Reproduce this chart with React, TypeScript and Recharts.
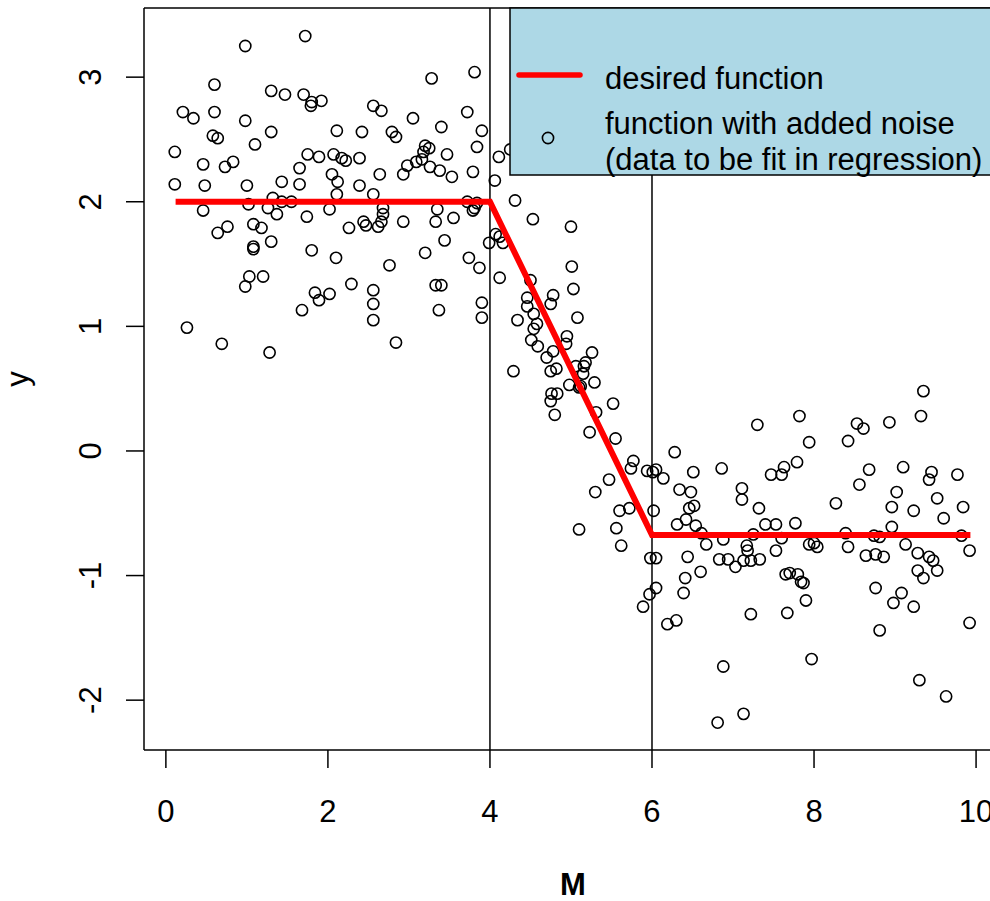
import { ScatterChart, Scatter, XAxis, YAxis, ReferenceLine, Legend } from 'recharts'

const FONT = '"Liberation Sans", Arial, Helvetica, sans-serif'

const xTicks = [0, 2, 4, 6, 8, 10]
const yTicks = [-2, -1, 0, 1, 2, 3]
const breakpoints = [4, 6]

// desired (noise-free) piecewise function
const fnX = [0.12, 4, 6, 9.93]
const fnY = [2, 2, -0.675, -0.675]

// noisy samples, grouped by region
const highPoints: [number, number][] = [
  [1.72, 3.33], [0.98, 3.25], [0.6, 2.94], [1.3, 2.89], [1.47, 2.86], [1.7, 2.86], [1.8, 2.8], [1.79, 2.77],
  [1.92, 2.81], [0.21, 2.72], [0.34, 2.67], [0.6, 2.72], [0.98, 2.65], [1.3, 2.56], [2.11, 2.57], [2.42, 2.56],
  [0.58, 2.53], [0.64, 2.51], [1.1, 2.46], [0.11, 2.4], [0.46, 2.3], [0.73, 2.28], [0.83, 2.32], [1.75, 2.38],
  [1.89, 2.36], [2.07, 2.38], [2.17, 2.35], [2.22, 2.33], [2.39, 2.35], [1.65, 2.27], [2.05, 2.22], [2.12, 2.16],
  [2.11, 2.06], [0.11, 2.14], [0.48, 2.13], [1.0, 2.13], [1.43, 2.16], [1.65, 2.14], [2.39, 2.13],
  [0.46, 1.93], [1.02, 1.98], [1.32, 2.03], [1.43, 2.0], [1.55, 2.0], [1.26, 1.95], [1.37, 1.9], [1.74, 1.88],
  [2.02, 1.94], [0.64, 1.75], [0.76, 1.8], [1.08, 1.82], [1.18, 1.79], [2.26, 1.79], [1.08, 1.64], [1.08, 1.62],
  [1.3, 1.68], [1.8, 1.61], [2.1, 1.55], [1.03, 1.4], [1.2, 1.4], [0.98, 1.32], [1.84, 1.27], [2.02, 1.26],
  [1.89, 1.21], [2.29, 1.34], [1.68, 1.13], [0.26, 0.99], [0.69, 0.86], [1.28, 0.79],
  [3.81, 3.04], [3.28, 2.99], [2.56, 2.77], [2.66, 2.73], [3.05, 2.67], [3.72, 2.72], [3.4, 2.6], [3.9, 2.57],
  [2.79, 2.56], [2.84, 2.52], [3.84, 2.44], [3.2, 2.45], [3.25, 2.43], [3.18, 2.4], [3.47, 2.38], [4.11, 2.36],
  [4.25, 2.42], [2.64, 2.22], [2.93, 2.22], [2.98, 2.29], [3.09, 2.32], [3.16, 2.34], [3.26, 2.28], [3.38, 2.25],
  [3.53, 2.2], [3.79, 2.24], [4.06, 2.17], [2.56, 2.06],
  [2.68, 1.95], [2.68, 1.9], [2.44, 1.84], [2.47, 1.81], [2.62, 1.8], [2.66, 1.84], [2.93, 1.84], [3.33, 1.84],
  [3.35, 1.94], [3.55, 1.87], [3.72, 2.0], [3.84, 1.99], [3.81, 1.95], [3.79, 1.93], [3.44, 1.69], [3.2, 1.59],
  [2.76, 1.49], [3.74, 1.55], [3.87, 1.47], [3.99, 1.67], [4.07, 1.74], [4.12, 1.72], [4.16, 1.67], [4.12, 1.39],
  [3.33, 1.33], [3.4, 1.33], [2.56, 1.29], [2.56, 1.18], [2.56, 1.05], [3.37, 1.13], [3.9, 1.19], [3.9, 1.07],
  [2.84, 0.87], [4.31, 2.01], [4.53, 1.86], [5.0, 1.8],
]

const rampPoints: [number, number][] = [
  [5.01, 1.48], [5.03, 1.3], [4.5, 1.37], [4.46, 1.23], [4.46, 1.16], [4.78, 1.25], [4.75, 1.18], [4.54, 1.1],
  [4.34, 1.05], [5.08, 1.07], [4.54, 0.98], [4.58, 1.02], [4.51, 0.89], [4.59, 0.84], [4.95, 0.92], [4.94, 0.86],
  [4.78, 0.8], [4.7, 0.75], [5.26, 0.79], [5.18, 0.71], [5.16, 0.68], [5.15, 0.62], [5.06, 0.68], [4.82, 0.66],
  [4.75, 0.64], [4.29, 0.64], [5.29, 0.55], [4.98, 0.53], [5.1, 0.51], [5.12, 0.52], [4.76, 0.46], [4.83, 0.46],
  [4.75, 0.4], [4.8, 0.29], [5.52, 0.38], [5.31, 0.31], [5.23, 0.15], [5.55, 0.1], [5.77, -0.08], [5.74, -0.14],
  [5.94, -0.16], [6.01, -0.17], [6.05, -0.15], [5.47, -0.23], [5.3, -0.33], [5.6, -0.48], [5.72, -0.46],
  [6.02, -0.48], [5.1, -0.63], [5.56, -0.62], [5.62, -0.76], [5.98, -0.86], [6.05, -0.86],
]

const lowPoints: [number, number][] = [
  [6.28, -0.01], [7.3, 0.21], [6.86, -0.14], [6.51, -0.17], [6.14, -0.22], [6.34, -0.31], [6.48, -0.33],
  [7.11, -0.3], [7.11, -0.39], [7.47, -0.19], [6.46, -0.46], [6.52, -0.44], [7.32, -0.46], [6.42, -0.55],
  [6.31, -0.59], [6.54, -0.6], [6.61, -0.66], [6.67, -0.75], [6.88, -0.71], [7.25, -0.67], [7.4, -0.59],
  [7.53, -0.59], [7.53, -0.8], [6.44, -0.85], [6.83, -0.87], [6.94, -0.87], [7.03, -0.93], [7.17, -0.76],
  [7.18, -0.8], [7.13, -0.88], [7.22, -0.88], [7.33, -0.87], [6.41, -1.02], [6.6, -0.97],
  [6.05, -1.1], [5.97, -1.15], [5.89, -1.25], [6.39, -1.14], [6.19, -1.39], [6.3, -1.36], [7.22, -1.31],
  [6.88, -1.73], [7.13, -2.11], [6.81, -2.18],
  [9.35, 0.48], [9.32, 0.28], [7.82, 0.28], [7.94, 0.07], [8.53, 0.22], [8.61, 0.18], [8.93, 0.23], [8.42, 0.08],
  [7.79, -0.09], [7.63, -0.13], [7.6, -0.19], [8.68, -0.15], [8.56, -0.27], [9.1, -0.13], [9.45, -0.17],
  [9.42, -0.23], [9.77, -0.19], [9.02, -0.33], [8.27, -0.42], [8.96, -0.45], [9.23, -0.48], [9.52, -0.38],
  [9.6, -0.54], [9.84, -0.45], [7.77, -0.58], [8.39, -0.66], [8.96, -0.61], [8.74, -0.68], [8.81, -0.69],
  [9.82, -0.68], [7.6, -0.7], [7.94, -0.75], [8.0, -0.74], [8.04, -0.77], [8.42, -0.77], [8.64, -0.84],
  [8.76, -0.83], [8.86, -0.85], [9.13, -0.75], [9.28, -0.82], [9.42, -0.85], [9.47, -0.88], [9.92, -0.8],
  [7.65, -0.99], [7.7, -0.98], [7.8, -0.99], [7.84, -1.05], [7.87, -1.06], [7.9, -1.2], [7.67, -1.3],
  [7.97, -1.67], [8.76, -1.1], [8.81, -1.44], [9.08, -1.14], [8.98, -1.22], [9.23, -1.25], [9.28, -0.96],
  [9.35, -1.02], [9.52, -0.96], [9.92, -1.38], [9.3, -1.84], [9.63, -1.97],
]

const toXY = (pts: [number, number][]) => pts.map(([x, y]) => ({ x, y }))
const fnData = fnX.map((x, i) => ({ x, y: fnY[i] }))

const OpenCircle = (props: any) => (
  <circle cx={props.cx} cy={props.cy} r={5.6} fill="none" stroke="#000" strokeWidth={1.6} />
)

const XTick = ({ x, y, payload }: any) => (
  <text x={x} y={y + 52} textAnchor="middle" fontSize={31} fontFamily={FONT} fill="#000">
    {payload.value}
  </text>
)

const YTick = ({ x, y, payload }: any) => (
  <text
    transform={`translate(${x - 23},${y}) rotate(-90)`}
    textAnchor="middle"
    fontSize={31}
    fontFamily={FONT}
    fill="#000"
  >
    {payload.value}
  </text>
)

const LegendBox = () => (
  <svg width={500} height={180} style={{ overflow: 'visible', display: 'block' }}>
    <rect x={0} y={0} width={500} height={167} fill="#ADD8E6" stroke="#000" strokeWidth={1.5} />
    <line x1={9} y1={67} x2={70} y2={67} stroke="#FF0000" strokeWidth={5.5} strokeLinecap="round" />
    <circle cx={38} cy={130} r={5.6} fill="none" stroke="#000" strokeWidth={1.6} />
    <g fontFamily={FONT} fontSize={31} fill="#000">
      <text x={95} y={81}>desired function</text>
      <text x={95} y={126}>function with added noise</text>
      <text x={95} y={162}>(data to be fit in regression)</text>
    </g>
  </svg>
)

export default function App() {
  return (
    <div
      style={{
        position: 'absolute',
        left: 0,
        top: 0,
        width: 990,
        height: 901,
        overflow: 'hidden',
        background: '#fff',
      }}
    >
      <ScatterChart width={1030} height={901} margin={{ top: 8, right: 28, bottom: 51, left: 44 }}>
        <XAxis
          type="number"
          dataKey="x"
          domain={[-0.27, 10.32]}
          ticks={xTicks}
          interval={0}
          allowDataOverflow
          height={100}
          tickSize={18}
          tick={XTick}
          axisLine={{ stroke: '#000', strokeWidth: 1.5 }}
          tickLine={{ stroke: '#000', strokeWidth: 1.5 }}
          label={{
            content: () => (
              <text x={573} y={895} textAnchor="middle" fontSize={31} fontWeight="bold" fontFamily={FONT}>
                M
              </text>
            ),
          }}
        />
        <YAxis
          type="number"
          dataKey="y"
          domain={[-2.4, 3.555]}
          ticks={yTicks}
          interval={0}
          allowDataOverflow
          width={100}
          tickSize={18}
          tick={YTick}
          axisLine={{ stroke: '#000', strokeWidth: 1.5 }}
          tickLine={{ stroke: '#000', strokeWidth: 1.5 }}
          label={{
            content: () => (
              <text
                transform="translate(28,379) rotate(-90)"
                textAnchor="middle"
                fontSize={31}
                fontFamily={FONT}
              >
                y
              </text>
            ),
          }}
        />
        <ReferenceLine y={3.555} stroke="#000" strokeWidth={1.5} />
        {breakpoints.map((b) => (
          <ReferenceLine key={b} x={b} stroke="#000" strokeWidth={1.5} />
        ))}
        <Scatter data={toXY(highPoints)} shape={OpenCircle} isAnimationActive={false} />
        <Scatter data={toXY(rampPoints)} shape={OpenCircle} isAnimationActive={false} />
        <Scatter data={toXY(lowPoints)} shape={OpenCircle} isAnimationActive={false} />
        <Scatter
          data={fnData}
          line={{ stroke: '#FF0000', strokeWidth: 6 }}
          shape={() => <g />}
          isAnimationActive={false}
        />
        <Legend
          layout="vertical"
          align="center"
          verticalAlign="middle"
          wrapperStyle={{ left: 510, top: 8, width: 500, height: 180 }}
          content={() => <LegendBox />}
        />
      </ScatterChart>
    </div>
  )
}
